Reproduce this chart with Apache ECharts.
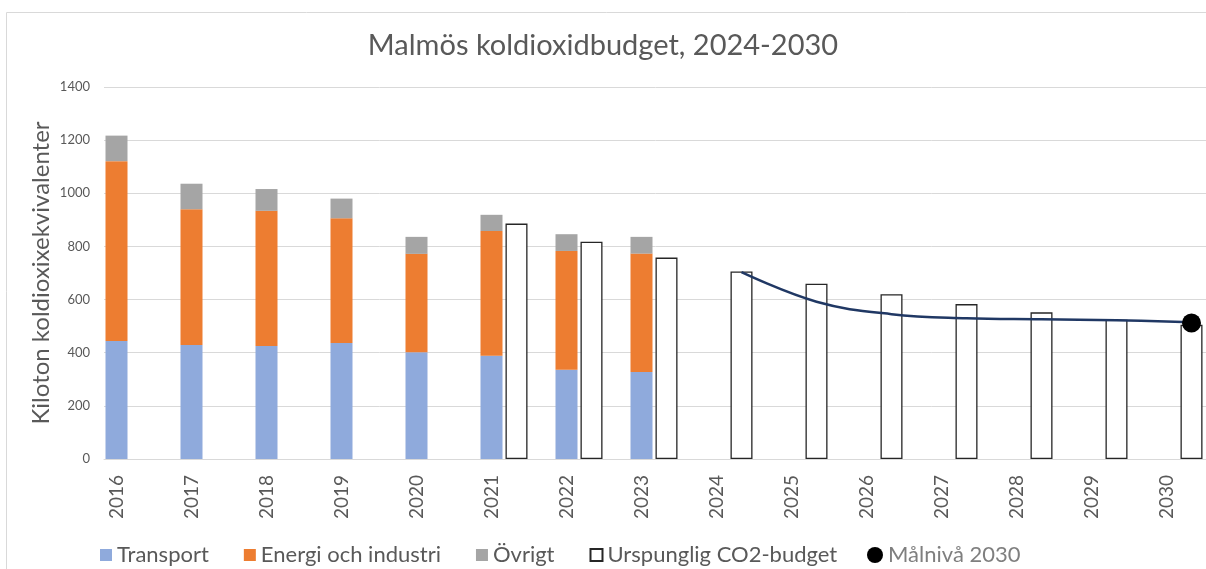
<!DOCTYPE html>
<html>
<head>
<meta charset="utf-8">
<title>Malmös koldioxidbudget</title>
<script src="https://cdn.jsdelivr.net/npm/echarts@6/dist/echarts.min.js"></script>
<style>
  html, body { margin: 0; padding: 0; background: #fff; }
  #chart { width: 1206px; height: 569px; }
</style>
</head>
<body>
<div id="chart"></div>
<script>
// data
const years = ['2016', '2017', '2018', '2019', '2020', '2021', '2022', '2023',
  '2024', '2025', '2026', '2027', '2028', '2029', '2030']
const transport = [444, 429, 425, 437, 402, 389, 336, 327, null, null, null, null, null, null, null]
const energi = [677, 511, 509, 469, 370, 469, 447, 446, null, null, null, null, null, null, null]
const ovrigt = [96, 96, 82, 74, 64, 61, 63, 63, null, null, null, null, null, null, null]
const budget = [null, null, null, null, null, 886, 818, 758, 706, 660, 620, 583, 552, 524, 505]
const trajectory = [null, null, null, null, null, null, null, null, 703, 592, 545, 530, 526, 522, 515]
const goalYear = '2030'
const goalValue = 512

const textGray = '#595959'
const font = 'Lato'

const chart = echarts.init(document.getElementById('chart'))

const option = {
  animation: false,
  textStyle: { fontFamily: font },
  graphic: [{
    type: 'rect',
    shape: { x: 6.5, y: 12.5, width: 1300, height: 700 },
    style: { fill: 'none', stroke: '#d9d9d9', lineWidth: 1 },
    silent: true
  }],
  title: {
    text: 'Malmös koldioxidbudget, 2024-2030',
    left: 'center',
    top: 26,
    textStyle: { fontFamily: font, fontSize: 29, fontWeight: 'normal', color: textGray }
  },
  legend: [
    {
      left: 95,
      top: 539,
      itemWidth: 12,
      itemHeight: 12,
      itemGap: 35,
      textStyle: { fontFamily: font, fontSize: 22, color: textGray },
      data: [
        { name: 'Transport', icon: 'rect' },
        { name: 'Energi och industri', icon: 'rect' },
        { name: 'Övrigt', icon: 'rect' },
        { name: 'Urspunglig CO2-budget', icon: 'rect' }
      ]
    },
    {
      left: 862,
      top: 539,
      itemWidth: 16,
      itemHeight: 19,
      textStyle: { fontFamily: font, fontSize: 22, color: '#7f7f7f' },
      data: [{ name: 'Målnivå 2030', icon: 'circle' }]
    }
  ],
  grid: [
    { left: 79, width: 1125, top: 87, bottom: 110, outerBoundsMode: 'none' },
    { left: 104, width: 1125, top: 87, bottom: 110, outerBoundsMode: 'none' }
  ],
  xAxis: [
    {
      type: 'category',
      gridIndex: 0,
      data: years,
      axisLine: { show: false },
      axisTick: { show: false },
      axisLabel: { rotate: 90, fontSize: 19, color: textGray, margin: 16, fontFamily: font }
    },
    {
      type: 'category',
      gridIndex: 1,
      data: years,
      axisLine: { lineStyle: { color: '#d9d9d9', width: 1 } },
      axisTick: { show: false },
      axisLabel: { show: false }
    }
  ],
  yAxis: [
    {
      type: 'value',
      gridIndex: 0,
      min: 0,
      max: 1400,
      interval: 200,
      axisLabel: { show: false },
      splitLine: { show: false },
      name: 'Kiloton koldioxixekvivalenter',
      nameLocation: 'middle',
      nameGap: 26,
      nameTextStyle: { fontFamily: font, fontSize: 24, color: textGray }
    },
    {
      type: 'value',
      gridIndex: 1,
      min: 0,
      max: 1400,
      interval: 200,
      axisLine: { show: false },
      axisTick: { show: false },
      axisLabel: {
        fontSize: 13, color: textGray, margin: 14, fontFamily: font,
        formatter: (v) => String(v)
      },
      splitLine: { lineStyle: { color: '#d9d9d9', width: 1 } }
    }
  ],
  series: [
    {
      name: 'Transport', type: 'bar', stack: 'utslapp',
      xAxisIndex: 0, yAxisIndex: 0, barWidth: 22,
      itemStyle: { color: '#8faadc' },
      data: transport
    },
    {
      name: 'Energi och industri', type: 'bar', stack: 'utslapp',
      xAxisIndex: 0, yAxisIndex: 0, barWidth: 22,
      itemStyle: { color: '#ed7d31' },
      data: energi
    },
    {
      name: 'Övrigt', type: 'bar', stack: 'utslapp',
      xAxisIndex: 0, yAxisIndex: 0, barWidth: 22,
      itemStyle: { color: '#a5a5a5' },
      data: ovrigt
    },
    {
      name: 'Urspunglig CO2-budget', type: 'bar',
      xAxisIndex: 1, yAxisIndex: 1, barWidth: 22,
      itemStyle: { color: '#ffffff', borderColor: '#262626', borderWidth: 1.3 },
      data: budget
    },
    {
      name: 'Bana', type: 'line',
      xAxisIndex: 1, yAxisIndex: 1,
      smooth: 0.4,
      showSymbol: false,
      lineStyle: { color: '#203864', width: 2.5 },
      data: trajectory,
      z: 3
    },
    {
      name: 'Målnivå 2030', type: 'scatter',
      xAxisIndex: 1, yAxisIndex: 1,
      symbolSize: 19,
      itemStyle: { color: '#000000', opacity: 1 },
      data: [[goalYear, goalValue]],
      z: 4
    }
  ]
}

chart.setOption(option)
</script>
</body>
</html>
